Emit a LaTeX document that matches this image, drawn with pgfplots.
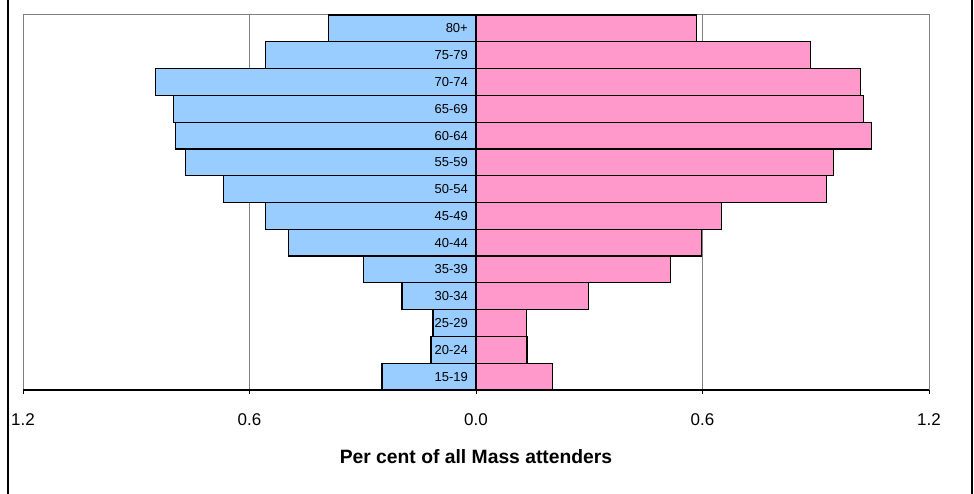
\documentclass[border=0pt]{standalone}
\usepackage{pgfplots}
\usepackage{pgfplotstable}
\pgfplotsset{compat=1.18}
\usepackage{fontspec}
\setmainfont{Liberation Sans}
\definecolor{menblue}{HTML}{99CCFF}
\definecolor{womenpink}{HTML}{FF99CC}
\definecolor{gridgray}{HTML}{808080}

\pgfplotstableread{
pos lab   men    women
1   15-19 -0.249 0.202
2   20-24 -0.119 0.135
3   25-29 -0.114 0.133
4   30-34 -0.196 0.297
5   35-39 -0.297 0.515
6   40-44 -0.496 0.597
7   45-49 -0.557 0.650
8   50-54 -0.668 0.928
9   55-59 -0.770 0.947
10  60-64 -0.796 1.048
11  65-69 -0.801 1.027
12  70-74 -0.849 1.019
13  75-79 -0.557 0.886
14  80+   -0.390 0.584
}\pyramid

\begin{document}
\begin{tikzpicture}
\path[use as bounding box] (0,0) rectangle (974bp,494bp);
\draw[black, line width=1.2bp] (8bp,0) -- (8bp,494bp);
\draw[black, line width=1.2bp] (972bp,0) -- (972bp,494bp);
\begin{axis}[
    at={(23bp,104bp)}, anchor=south west,
    scale only axis,
    width=906bp, height=375bp,
    xmin=-1.2, xmax=1.2,
    ymin=0.5, ymax=14.5,
    xtick={-1.2,-0.6,0,0.6,1.2},
    xticklabels={1.2,0.6,0.0,0.6,1.2},
    ytick=\empty,
    xtick pos=bottom,
    tick align=outside,
    major tick length=4bp,
    xtick style={black, line width=0.8bp},
    xmajorgrids,
    grid style={gridgray, line width=0.8bp},
    axis line style={gridgray, line width=1bp},
    xticklabel style={font=\fontsize{17bp}{20bp}\selectfont, anchor=base, yshift=-31bp},
    xlabel={\textbf{Per cent of all Mass attenders}},
    xlabel style={at={(axis description cs:0.5,0)}, anchor=base, yshift=-73bp,
        font=\fontsize{19.3bp}{22bp}\selectfont},
    clip=false,
]
\addplot[xbar, bar width=1, bar shift=0, fill=menblue, draw=black, line width=1.2bp]
    table[x=men, y=pos] {\pyramid};
\addplot[xbar, bar width=1, bar shift=0, fill=womenpink, draw=black, line width=1.2bp]
    table[x=women, y=pos] {\pyramid};
\addplot[draw=none, mark=none, nodes near coords, point meta=explicit symbolic,
    nodes near coords style={anchor=east, inner sep=0pt, xshift=-8bp,
        font=\fontsize{13bp}{15bp}\selectfont}]
    table[x expr=0, y=pos, meta=lab] {\pyramid};
\draw[black, line width=1.2bp] (rel axis cs:0,0) -- (rel axis cs:1,0);
\end{axis}
\end{tikzpicture}
\end{document}
